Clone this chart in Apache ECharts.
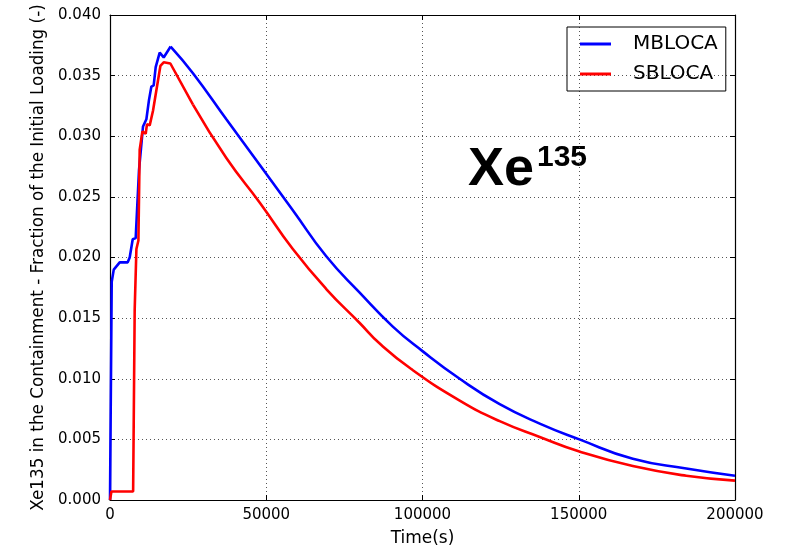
<!DOCTYPE html>
<html>
<head>
<meta charset="utf-8">
<script src="https://cdn.jsdelivr.net/npm/echarts@6/dist/echarts.min.js"></script>
<style>html,body{margin:0;padding:0;background:#fff}#c{width:789px;height:552px}</style>
</head>
<body>
<div id="c"></div>
<script>
var xTicks = [0, 50000, 100000, 150000, 200000];
var yTicks = ['0.000','0.005','0.010','0.015','0.020','0.025','0.030','0.035','0.040'];

var mblocaTime = [0, 450, 550, 1200, 3100, 5660, 6300, 7270, 8220, 9280, 10560, 11640, 12480, 13240, 13980, 14620, 15900, 17180, 19400, 26550, 37230, 48000, 58500, 69200, 79900, 90500, 99900, 111900, 124700, 137500, 150200, 167300, 184400, 200000];
var mblocaValue = [0, 0, 0.0180, 0.0190, 0.0196, 0.0196, 0.0200, 0.0215, 0.0216, 0.0272, 0.0308, 0.0314, 0.0330, 0.0341, 0.0342, 0.0357, 0.0369, 0.0365, 0.0374, 0.0352, 0.0314, 0.0276, 0.0239, 0.0201, 0.0171, 0.0143, 0.0123, 0.0100, 0.0079, 0.0063, 0.0050, 0.0034, 0.0026, 0.0020];

var sblocaTime = [0, 450, 7400, 7900, 8450, 9090, 9500, 10370, 10880, 11420, 11840, 12700, 13760, 15040, 16120, 17180, 19320, 26550, 37230, 48000, 58500, 69200, 79900, 86300, 96400, 111900, 124700, 137500, 150200, 167300, 184400, 200000];
var sblocaValue = [0, 0.0007, 0.0007, 0.0157, 0.0207, 0.0214, 0.0289, 0.0304, 0.0305, 0.0302, 0.0310, 0.0309, 0.0321, 0.0341, 0.0358, 0.0361, 0.0360, 0.0326, 0.0282, 0.0245, 0.0207, 0.0174, 0.0146, 0.0129, 0.0108, 0.0082, 0.0065, 0.0052, 0.0040, 0.0028, 0.0020, 0.0016];

function zip(a, b) { return a.map(function (t, i) { return [t, b[i]]; }); }
function peakIndex(v) { var k = 0; v.forEach(function (x, i) { if (x > v[k]) k = i; }); return k; }

var mb = zip(mblocaTime, mblocaValue), sb = zip(sblocaTime, sblocaValue);
var mbK = peakIndex(mblocaValue), sbK = peakIndex(sblocaValue) + 2;

var font = 'DejaVu Sans';
var tick = { show: true, inside: true, length: 5, lineStyle: { color: '#000', width: 1 } };
var line = { show: true, onZero: false, lineStyle: { color: '#000', width: 1.2 } };
var grid = { show: true, lineStyle: { color: '#555', type: [1, 3], width: 1 } };

function part(name, color, data, smooth, z) {
  return { name: name, type: 'line', showSymbol: false, symbol: 'none', smooth: smooth,
    data: data, color: color, lineStyle: { color: color, width: 2.6 }, z: z };
}

var chart = echarts.init(document.getElementById('c'));
chart.setOption({
  animation: false,
  backgroundColor: '#fff',
  grid: { left: 110, right: 54, top: 15, bottom: 51 },
  legend: {
    orient: 'vertical', left: 567, top: 27,
    data: ['MBLOCA', 'SBLOCA'],
    icon: 'rect', itemWidth: 31, itemHeight: 3, itemGap: 10,
    padding: [7, 8, 7, 13],
    borderColor: '#000', borderWidth: 1, borderRadius: 0,
    textStyle: { fontFamily: font, fontSize: 20, color: '#000', padding: [0, 0, 0, 17] }
  },
  xAxis: [{
    type: 'value', min: 0, max: 200000, interval: 50000,
    name: 'Time(s)', nameLocation: 'middle', nameGap: 30,
    nameTextStyle: { fontFamily: font, fontSize: 17, color: '#000' },
    axisLine: line, axisTick: tick, splitLine: grid,
    axisLabel: { fontFamily: font, fontSize: 15, color: '#000', margin: 8,
      formatter: function (v) { return xTicks.indexOf(v) >= 0 ? String(v) : ''; } }
  }, {
    type: 'value', position: 'top', min: 0, max: 200000, interval: 50000,
    axisLine: line, axisTick: tick, splitLine: { show: false }, axisLabel: { show: false }
  }],
  yAxis: [{
    type: 'value', min: 0, max: 0.04, interval: 0.005,
    name: 'Xe135 in the Containment - Fraction of the Initial Loading (-)',
    nameLocation: 'middle', nameGap: 63,
    nameTextStyle: { fontFamily: font, fontSize: 16.8, color: '#000' },
    axisLine: line, axisTick: tick, splitLine: grid,
    axisLabel: { fontFamily: font, fontSize: 15, color: '#000', margin: 9,
      formatter: function (v) { return yTicks[Math.round(v / 0.005)]; } }
  }, {
    type: 'value', position: 'right', min: 0, max: 0.04, interval: 0.005,
    axisLine: line, axisTick: tick, splitLine: { show: false }, axisLabel: { show: false }
  }],
  series: [
    part('MBLOCA', '#0000ff', mb.slice(0, mbK + 1), false, 3),
    part('MBLOCA', '#0000ff', mb.slice(mbK), 0.5, 3),
    part('SBLOCA', '#ff0000', sb.slice(0, sbK + 1), false, 4),
    part('SBLOCA', '#ff0000', sb.slice(sbK), 0.5, 4)
  ],
  graphic: [{
    type: 'text', left: 468, top: 143,
    style: { text: 'Xe', font: 'bold 54px "Liberation Sans"', fill: '#000' }
  }, {
    type: 'text', left: 537, top: 143,
    style: { text: '135', font: 'bold 30px "Liberation Sans"', fill: '#000' }
  }]
});
</script>
</body>
</html>
